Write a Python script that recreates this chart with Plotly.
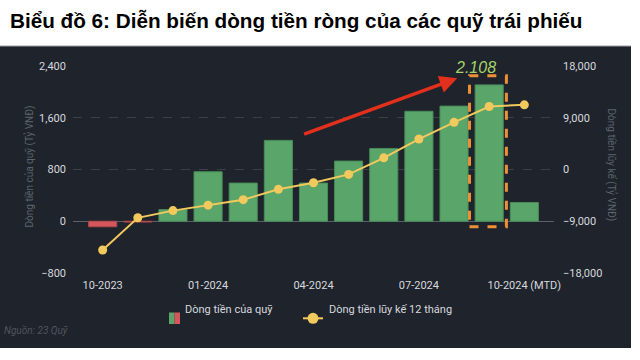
import plotly.graph_objects as go

categories = ["10-2023", "11-2023", "12-2023", "01-2024", "02-2024", "03-2024", "04-2024",
              "05-2024", "06-2024", "07-2024", "08-2024", "09-2024", "10-2024 (MTD)"]
fund_flow = [-85, -12, 180, 765, 590, 1250, 590, 930, 1125, 1700, 1780, 2108, 290]
cum_12m = [-14000, -8400, -7150, -6200, -5250, -3450, -2300, -850, 2030, 5300, 8200, 10950, 11250]
tick_labels = ["10-2023", "01-2024", "04-2024", "07-2024", "10-2024 (MTD)"]

BG = "#1f232b"
GREEN = "#5aa66a"
RED = "#d5575b"
YELLOW = "#f2c95c"
GRID = "#3a3f49"
TICK = "#d6d9df"
FONT = "Roboto"

bar_colors = [GREEN if v >= 0 else RED for v in fund_flow]
bar_lines = ["#4a8c59" if v >= 0 else "#b0484c" for v in fund_flow]

fig = go.Figure()
fig.add_trace(go.Bar(
    x=categories, y=fund_flow, name="Dòng tiền của quỹ",
    marker=dict(color=bar_colors, line=dict(color=bar_lines, width=1)),
    width=0.8, yaxis="y", showlegend=False,
))
fig.add_trace(go.Scatter(
    x=categories, y=cum_12m, name="Dòng tiền lũy kế 12 tháng", yaxis="y2",
    mode="lines+markers", line=dict(color=YELLOW, width=2),
    marker=dict(color=YELLOW, size=9), showlegend=False,
))

# margins -> plot area x 73..554, y 66..273
L, R, T, B = 73, 86, 66, 87
pw, ph = 640 - L - R, 360 - T - B


def px_x(px):
    return (px - L) / pw


def px_y(py):
    return (360 - B - py) / ph


shapes = [
    dict(type="rect", xref="paper", yref="paper", x0=px_x(-5), x1=px_x(631),
         y0=px_y(348), y1=px_y(46), fillcolor=BG, line=dict(width=0), layer="below"),
    dict(type="line", xref="paper", yref="paper", x0=px_x(0), x1=px_x(631),
         y0=px_y(46), y1=px_y(46), line=dict(color="#9a9ea5", width=1), layer="below"),
    dict(type="rect", xref="x", yref="y", x0=10.44, x1=11.49, y0=-85, y1=2250,
         line=dict(color="#ee9038", width=3, dash="dash"), fillcolor="rgba(0,0,0,0)", layer="above"),
    # manual legend icons
    dict(type="rect", xref="paper", yref="paper", x0=px_x(169), x1=px_x(174.5),
         y0=px_y(324), y1=px_y(312.5), fillcolor=GREEN, line=dict(width=0)),
    dict(type="rect", xref="paper", yref="paper", x0=px_x(174.5), x1=px_x(180),
         y0=px_y(324), y1=px_y(312.5), fillcolor=RED, line=dict(width=0)),
    dict(type="line", xref="paper", yref="paper", x0=px_x(303), x1=px_x(323),
         y0=px_y(318.3), y1=px_y(318.3), line=dict(color=YELLOW, width=2)),
    dict(type="circle", xref="paper", yref="paper", x0=px_x(307.5), x1=px_x(318.5),
         y0=px_y(323.8), y1=px_y(312.8), fillcolor=YELLOW, line=dict(width=0)),
]

annotations = [
    dict(text="<b>Biểu đồ 6: Diễn biến dòng tiền ròng của các quỹ trái phiếu</b>",
         xref="paper", yref="paper", x=px_x(8), y=px_y(21), xanchor="left", yanchor="middle",
         showarrow=False, font=dict(family="Liberation Sans", size=20.7, color="#000000")),
    dict(text="Dòng tiền của quỹ (Tỷ VNĐ)", xref="paper", yref="paper",
         x=px_x(20), y=px_y(167), textangle=-90, showarrow=False,
         font=dict(family=FONT, size=10, color="#5d636e")),
    dict(text="Dòng tiền lũy kế (Tỷ VNĐ)", xref="paper", yref="paper",
         x=px_x(620), y=px_y(165), textangle=90, showarrow=False,
         font=dict(family=FONT, size=10, color="#5d636e")),
    dict(text="Dòng tiền của quỹ", xref="paper", yref="paper", x=px_x(183), y=px_y(318.3),
         xanchor="left", showarrow=False, font=dict(family=FONT, size=11, color=TICK)),
    dict(text="Dòng tiền lũy kế 12 tháng", xref="paper", yref="paper", x=px_x(327), y=px_y(318.3),
         xanchor="left", showarrow=False, font=dict(family=FONT, size=11, color=TICK)),
    dict(text="<i>Nguồn: 23 Quỹ</i>", xref="paper", yref="paper", x=px_x(2), y=px_y(338),
         xanchor="left", showarrow=False, font=dict(family=FONT, size=10, color="#4f5560")),
    dict(text="<i>2.108</i>", xref="paper", yref="paper", x=px_x(498), y=px_y(56.5),
         showarrow=False, font=dict(family="Liberation Sans", size=16, color="#a6d46a")),
    dict(text="", x=10.09, y=2210, xref="x", yref="y", ax=5.69, ay=1340, axref="x", ayref="y",
         showarrow=True, arrowhead=2, arrowsize=1, arrowwidth=3.5, arrowcolor="#e3301c"),
]

fig.update_layout(
    width=640, height=360,
    margin=dict(l=L, r=R, t=T, b=B),
    paper_bgcolor="#ffffff", plot_bgcolor="rgba(0,0,0,0)",
    font=dict(family=FONT, color=TICK, size=11),
    showlegend=False, bargap=0.2,
    shapes=shapes, annotations=annotations,
    xaxis=dict(type="category", tickvals=tick_labels, ticktext=tick_labels,
               showgrid=False, showline=False, zeroline=False, ticks="",
               tickfont=dict(size=11, color=TICK), ticklabelstandoff=4),
    yaxis=dict(range=[-800, 2400], tickvals=[-800, 0, 800, 1600, 2400],
               tickformat=",", showgrid=True, gridcolor=GRID, griddash="dash", gridwidth=1,
               zeroline=True, zerolinecolor="#5a5f69", zerolinewidth=1,
               showline=False, ticks="", ticklabelstandoff=6,
               tickfont=dict(size=11, color=TICK)),
    yaxis2=dict(range=[-18000, 18000], tickvals=[-18000, -9000, 0, 9000, 18000],
                tickformat=",", overlaying="y", side="right", showgrid=False,
                zeroline=False, showline=False, ticks="", ticklabelstandoff=8,
                tickfont=dict(size=11, color=TICK)),
)

fig.write_html("out.html", config={"displayModeBar": False},
               post_script="document.body.style.margin='0';document.body.style.overflow='hidden';")
